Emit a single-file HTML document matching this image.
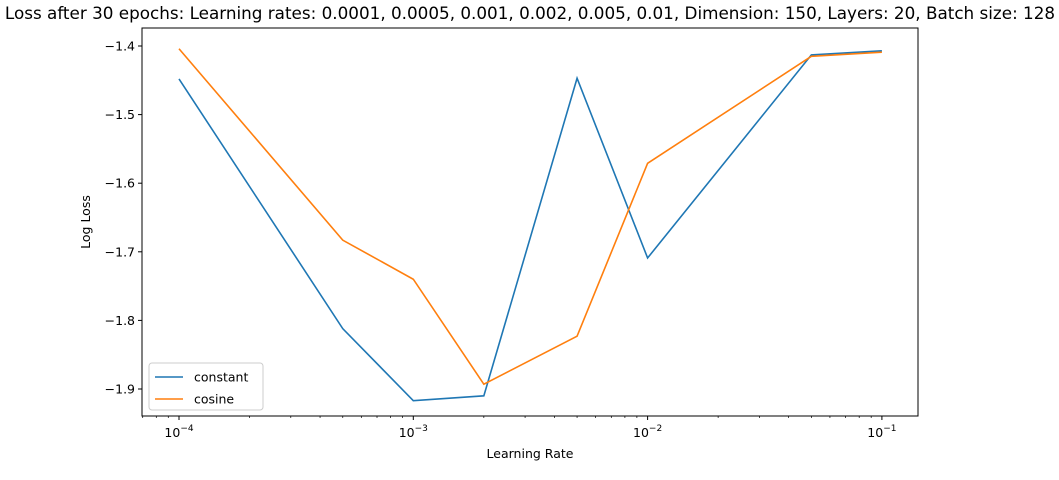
<!DOCTYPE html>
<html><head><meta charset="utf-8"><style>
body{margin:0;background:#fff;font-family:"Liberation Sans","DejaVu Sans",sans-serif;}
svg text{font-family:"DejaVu Sans","Liberation Sans",sans-serif;}
</style></head><body>
<svg id="c" width="1059" height="475"></svg>
<script>
const lrs=[0.0001,0.0005,0.001,0.002,0.005,0.01,0.05,0.1];
const constantLoss=[-1.448,-1.812,-1.917,-1.910,-1.447,-1.709,-1.413,-1.407];
const cosineLoss=[-1.404,-1.683,-1.740,-1.893,-1.823,-1.571,-1.415,-1.409];
const yTicks=[-1.4,-1.5,-1.6,-1.7,-1.8,-1.9];
const xTicks=[-4,-3,-2,-1];
const L=142,R=918,T=28,B=416;
const x=v=>179+(Math.log10(v)+4)*234.3;
const y=v=>46+(-1.4-v)*686;
const svg=document.getElementById('c');
const NS='http://www.w3.org/2000/svg';
function mk(t,a,p){const e=document.createElementNS(NS,t);for(const k in a)e.setAttribute(k,a[k]);(p||svg).appendChild(e);return e;}
let e=mk('text',{x:530,y:19,'text-anchor':'middle','font-size':16.8,fill:'#000'});e.textContent='Loss after 30 epochs: Learning rates: 0.0001, 0.0005, 0.001, 0.002, 0.005, 0.01, Dimension: 150, Layers: 20, Batch size: 128';


yTicks.forEach(v=>{
 const t=mk('line',{x1:L-4,x2:L,y1:y(v),y2:y(v),stroke:'#000'});
 
 
 const l=mk('text',{x:L-7,y:y(v)+4.5,'text-anchor':'end','font-size':12.5});l.textContent='−'+Math.abs(v).toFixed(1);
 
 
});
xTicks.forEach(p=>{
 const px=x(Math.pow(10,p));
 const t=mk('line',{x1:px,x2:px,y1:B,y2:B+4,stroke:'#000'});
 
 
 const l=mk('text',{x:px,y:B+21,'text-anchor':'middle','font-size':12.5});
 l.innerHTML='10<tspan dy="-6" font-size="9">−'+Math.abs(p)+'</tspan>';
 
 
});
for(let p=-5;p<=-1;p++)for(let m=2;m<=9;m++){
 const px=x(m*Math.pow(10,p));if(px<L||px>R)continue;
 const t=mk('line',{x1:px,x2:px,y1:B,y2:B+2,stroke:'#000','stroke-width':0.7});
 
 
}
e=mk('text',{x:530,y:458,'text-anchor':'middle','font-size':12.5});e.textContent='Learning Rate';


e=mk('text',{x:0,y:0,'text-anchor':'middle','font-size':12.5,transform:'translate(90,222) rotate(-90)'});e.textContent='Log Loss';


function line(vals,col,name){
 const p=mk('polyline',{points:lrs.map((v,i)=>x(v)+','+y(vals[i])).join(' '),fill:'none',stroke:col,'stroke-width':1.6});
 
 
}
line(constantLoss,'#1f77b4','constant-line');
line(cosineLoss,'#ff7f0e','cosine-line');
e=mk('rect',{x:L,y:T,width:R-L,height:B-T,fill:'none',stroke:'#000','stroke-width':1});


const g=mk('g',{});


mk('rect',{x:149,y:363,width:114,height:47,rx:3,fill:'#fff',stroke:'#ccc'},g);
[['constant','#1f77b4',377],['cosine','#ff7f0e',399]].forEach(([n,c,yy])=>{
 const li=mk('line',{x1:155,x2:183,y1:yy,y2:yy,stroke:c,'stroke-width':1.6},g);
 
 
 const t=mk('text',{x:194,y:yy+4.5,'font-size':12.5},g);t.textContent=n;
 
 
});
</script>
</body></html>
